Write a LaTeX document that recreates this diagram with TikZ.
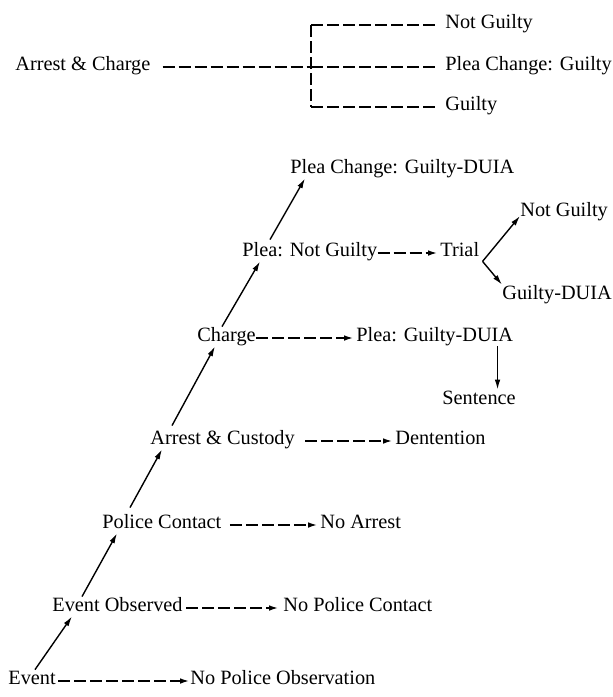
\documentclass[tikz,border=0pt]{standalone}
\usepackage{fontspec}
\setmainfont{Liberation Serif}
\usetikzlibrary{arrows.meta}

\begin{document}
\begin{tikzpicture}[
      x=0.5pt, y=-0.5pt,
      lbl/.style={anchor=base west, inner sep=0pt,
                  text height=7pt, text depth=2.5pt,
                  font=\fontsize{10.15}{12}\selectfont},
      dsh/.style={line width=1.1pt, dash pattern=on 6pt off 2pt},
      darr/.style={dsh, -{Latex[length=5pt,width=2.8pt]}},
      arr/.style={line width=0.7pt, -{Latex[length=5pt,width=2.8pt]}},
    ]
    \useasboundingbox (0,0) rectangle (612,697);

    \node[lbl] (arc)      at (15,70)   {Arrest \& Charge};
    \node[lbl] (ng-top)   at (445,28)  {Not Guilty};
    \node[lbl] (pcg-top)  at (445,70)  {Plea Change: Guilty};
    \node[lbl] (gty-top)  at (445,110) {Guilty};
    \coordinate (br-t) at (311,25);
    \coordinate (br-m) at (311,67);
    \coordinate (br-b) at (311,107);

    \node[lbl] (ev)       at (8,684)   {Event};
    \node[lbl] (no-obs)   at (190,684) {No Police Observation};
    \node[lbl] (ev-obs)   at (52,611)  {Event Observed};
    \node[lbl] (no-con)   at (283,611) {No Police Contact};
    \node[lbl] (pol-con)  at (102,528) {Police Contact};
    \node[lbl] (no-arr)   at (320,528) {No Arrest};
    \node[lbl] (arr-cus)  at (150,444) {Arrest \& Custody};
    \node[lbl] (det)      at (395,444) {Dentention};
    \node[lbl] (chg)      at (197,341) {Charge};
    \node[lbl] (plea-g)   at (356,341) {Plea: Guilty-DUIA};
    \node[lbl] (sent)     at (442,404) {Sentence};
    \node[lbl] (plea-ng)  at (242,256) {Plea: Not Guilty};
    \node[lbl] (trial)    at (440,256) {Trial};
    \node[lbl] (ng)       at (520,216) {Not Guilty};
    \node[lbl] (g-duia)   at (502,299) {Guilty-DUIA};
    \node[lbl] (plea-chg) at (290,173) {Plea Change: Guilty-DUIA};

    \draw[dsh, shorten <=6pt] ([yshift=1.5pt]arc.base east) -- (br-m);
    \draw[dsh] (br-t) -- (br-b);
    \draw[dsh, shorten >=4pt] (br-t) -- ([yshift=1.5pt]ng-top.base west);
    \draw[dsh, shorten >=4pt] (br-m) -- ([yshift=1.5pt]pcg-top.base west);
    \draw[dsh, shorten >=4pt] (br-b) -- ([yshift=1.5pt]gty-top.base west);

    \draw[darr, shorten <=1pt] ([yshift=1.5pt]ev.base east) -- ([yshift=1.5pt]no-obs.base west);
    \draw[darr, shorten <=1.5pt, shorten >=2pt] ([yshift=1.5pt]ev-obs.base east) -- ([yshift=1.5pt]no-con.base west);
    \draw[darr, shorten <=4pt, shorten >=1pt] ([yshift=1.5pt]pol-con.base east) -- ([yshift=1.5pt]no-arr.base west);
    \draw[darr, shorten <=5pt, shorten >=1pt] ([yshift=1.5pt]arr-cus.base east) -- ([yshift=1.5pt]det.base west);
    \draw[darr, shorten >=1pt] ([yshift=1.5pt]chg.base east) -- ([yshift=1.5pt]plea-g.base west);
    \draw[darr, shorten >=1pt] ([yshift=1.5pt]plea-ng.base east) -- ([yshift=1.5pt]trial.base west);

    \draw[arr] ([xshift=13.5pt]ev.north west) -- ([xshift=10pt]ev-obs.south west);
    \draw[arr] ([xshift=15pt]ev-obs.north west) -- ([xshift=7.5pt]pol-con.south west);
    \draw[arr] ([xshift=14pt,yshift=3pt]pol-con.north west) -- ([xshift=6pt]arr-cus.south west);
    \draw[arr] ([xshift=11pt,yshift=2pt]arr-cus.north west) -- ([xshift=9pt]chg.south west);
    \draw[arr] ([xshift=12.5pt]chg.north west) -- ([xshift=9pt]plea-ng.south west);
    \draw[arr] ([xshift=14pt,yshift=1pt]plea-ng.north west) -- ([xshift=7.5pt]plea-chg.south west);
    \draw[arr] ([xshift=-8pt]plea-g.south east) -- ([xshift=-8pt]plea-g.south east |- sent.north);
    \draw[arr] ([xshift=1.5pt]trial.south east) -- (ng.base west);
    \draw[arr] ([xshift=1.5pt]trial.south east) -- (g-duia.north west);
  \end{tikzpicture}
\end{document}
